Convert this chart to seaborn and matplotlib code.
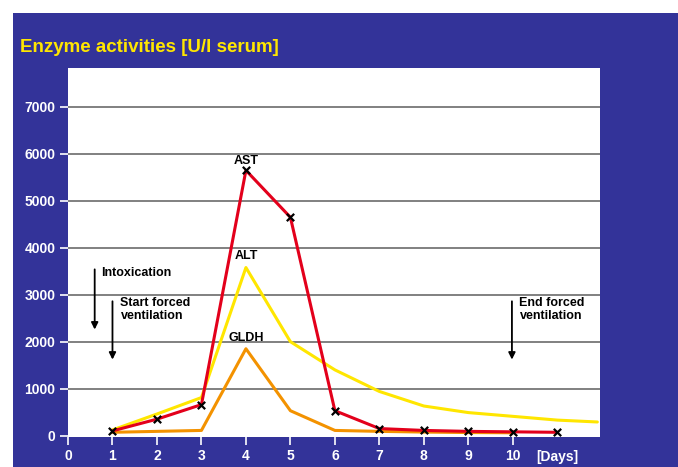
"""Enzyme activities after intoxication - recreated with seaborn."""

import matplotlib
matplotlib.use("Agg")
import matplotlib.pyplot as plt
import matplotlib.patches as mpatches
import seaborn as sns
import pandas as pd

# data
ast_days = [1, 2, 3, 4, 5, 6, 7, 8, 9, 10, 11]
ast_vals = [100, 350, 660, 5650, 4650, 530, 150, 110, 90, 80, 70]

alt_days = [1, 2, 3, 4, 5, 6, 7, 8, 9, 10, 11, 11.9]
alt_vals = [120, 460, 810, 3580, 2000, 1400, 940, 630, 490, 410, 330, 290]

gldh_days = [1, 3, 4, 5, 6, 7, 8, 9, 10]
gldh_vals = [70, 110, 1850, 530, 110, 90, 75, 65, 60]

x_ticks = [0, 1, 2, 3, 4, 5, 6, 7, 8, 9, 10]
y_ticks = [0, 1000, 2000, 3000, 4000, 5000, 6000, 7000]

BG = "#333399"
RED = "#e3001b"
YELLOW = "#ffe600"
ORANGE = "#f39200"

sns.set_style("white")
plt.rcParams["font.family"] = ["Liberation Sans", "DejaVu Sans"]

fig = plt.figure(figsize=(6.78, 4.67), dpi=100, facecolor="white")
fig.patches.append(mpatches.Rectangle((13 / 678, 0), 1, 1 - 13 / 467,
                                      transform=fig.transFigure,
                                      facecolor=BG, edgecolor="none", zorder=-1))
ax = fig.add_axes([68 / 678, 30 / 467, 532 / 678, 369 / 467])
ax.set_facecolor("white")

ast = pd.DataFrame({"day": ast_days, "val": ast_vals})
alt = pd.DataFrame({"day": alt_days, "val": alt_vals})
gldh = pd.DataFrame({"day": gldh_days, "val": gldh_vals})

sns.lineplot(data=gldh, x="day", y="val", ax=ax, color=ORANGE, lw=2.2, zorder=3)
sns.lineplot(data=alt, x="day", y="val", ax=ax, color=YELLOW, lw=2.2, zorder=4)
sns.lineplot(data=ast, x="day", y="val", ax=ax, color=RED, lw=2.2, zorder=5)
sns.scatterplot(data=ast, x="day", y="val", ax=ax, marker="x", color="black",
                s=28, linewidth=1.6, zorder=6)

ax.set_xlim(0, 11.96)
ax.set_ylim(-30, 7830)
ax.set_yticks(y_ticks)
ax.set_xticks(x_ticks)
ax.set_yticklabels([str(v) for v in y_ticks], color="white", fontweight="bold", fontsize=10)
ax.set_xticklabels([str(v) for v in x_ticks], color="white", fontweight="bold", fontsize=10)
ax.tick_params(axis="both", colors="white", length=6, width=1.2, direction="out",
               bottom=True, left=True, pad=3)
# unit label sits in the tick label row, without a tick mark
ax.set_xticks([11], minor=True)
ax.set_xticklabels(["[Days]"], minor=True, color="white", fontweight="bold", fontsize=10)
ax.tick_params(axis="x", which="minor", length=0, pad=9, bottom=True, labelcolor="white")
for y in y_ticks[1:]:
    ax.axhline(y, color="#808080", lw=1.4, zorder=1)
for s in ax.spines.values():
    s.set_visible(False)
ax.set_xlabel("")
ax.set_ylabel("")

# series labels
lab = dict(ha="center", va="bottom", fontweight="bold", fontsize=9, color="black", zorder=7)
ax.text(4, 5720, "AST", **lab)
ax.text(4, 3700, "ALT", **lab)
ax.text(4, 1960, "GLDH", **lab)

# event arrows
arr = dict(arrowstyle="-|>", color="black", lw=1.3, mutation_scale=10)
ax.annotate("", xy=(0.6, 2200), xytext=(0.6, 3600), arrowprops=arr)
ax.annotate("", xy=(1.0, 1560), xytext=(1.0, 2920), arrowprops=arr)
ax.annotate("", xy=(9.98, 1560), xytext=(9.98, 2920), arrowprops=arr)
note = dict(ha="left", va="top", fontweight="bold", fontsize=9, color="black",
            linespacing=1.2)
ax.text(0.75, 3600, "Intoxication", **note)
ax.text(1.18, 2960, "Start forced\nventilation", **note)
ax.text(10.15, 2960, "End forced\nventilation", **note)

fig.text(20 / 678, 1 - 48 / 467, "Enzyme activities [U/l serum]", color=YELLOW,
         fontweight="bold", fontsize=13.5, va="center", ha="left")

fig.savefig("out.png", dpi=100, facecolor=fig.get_facecolor())
